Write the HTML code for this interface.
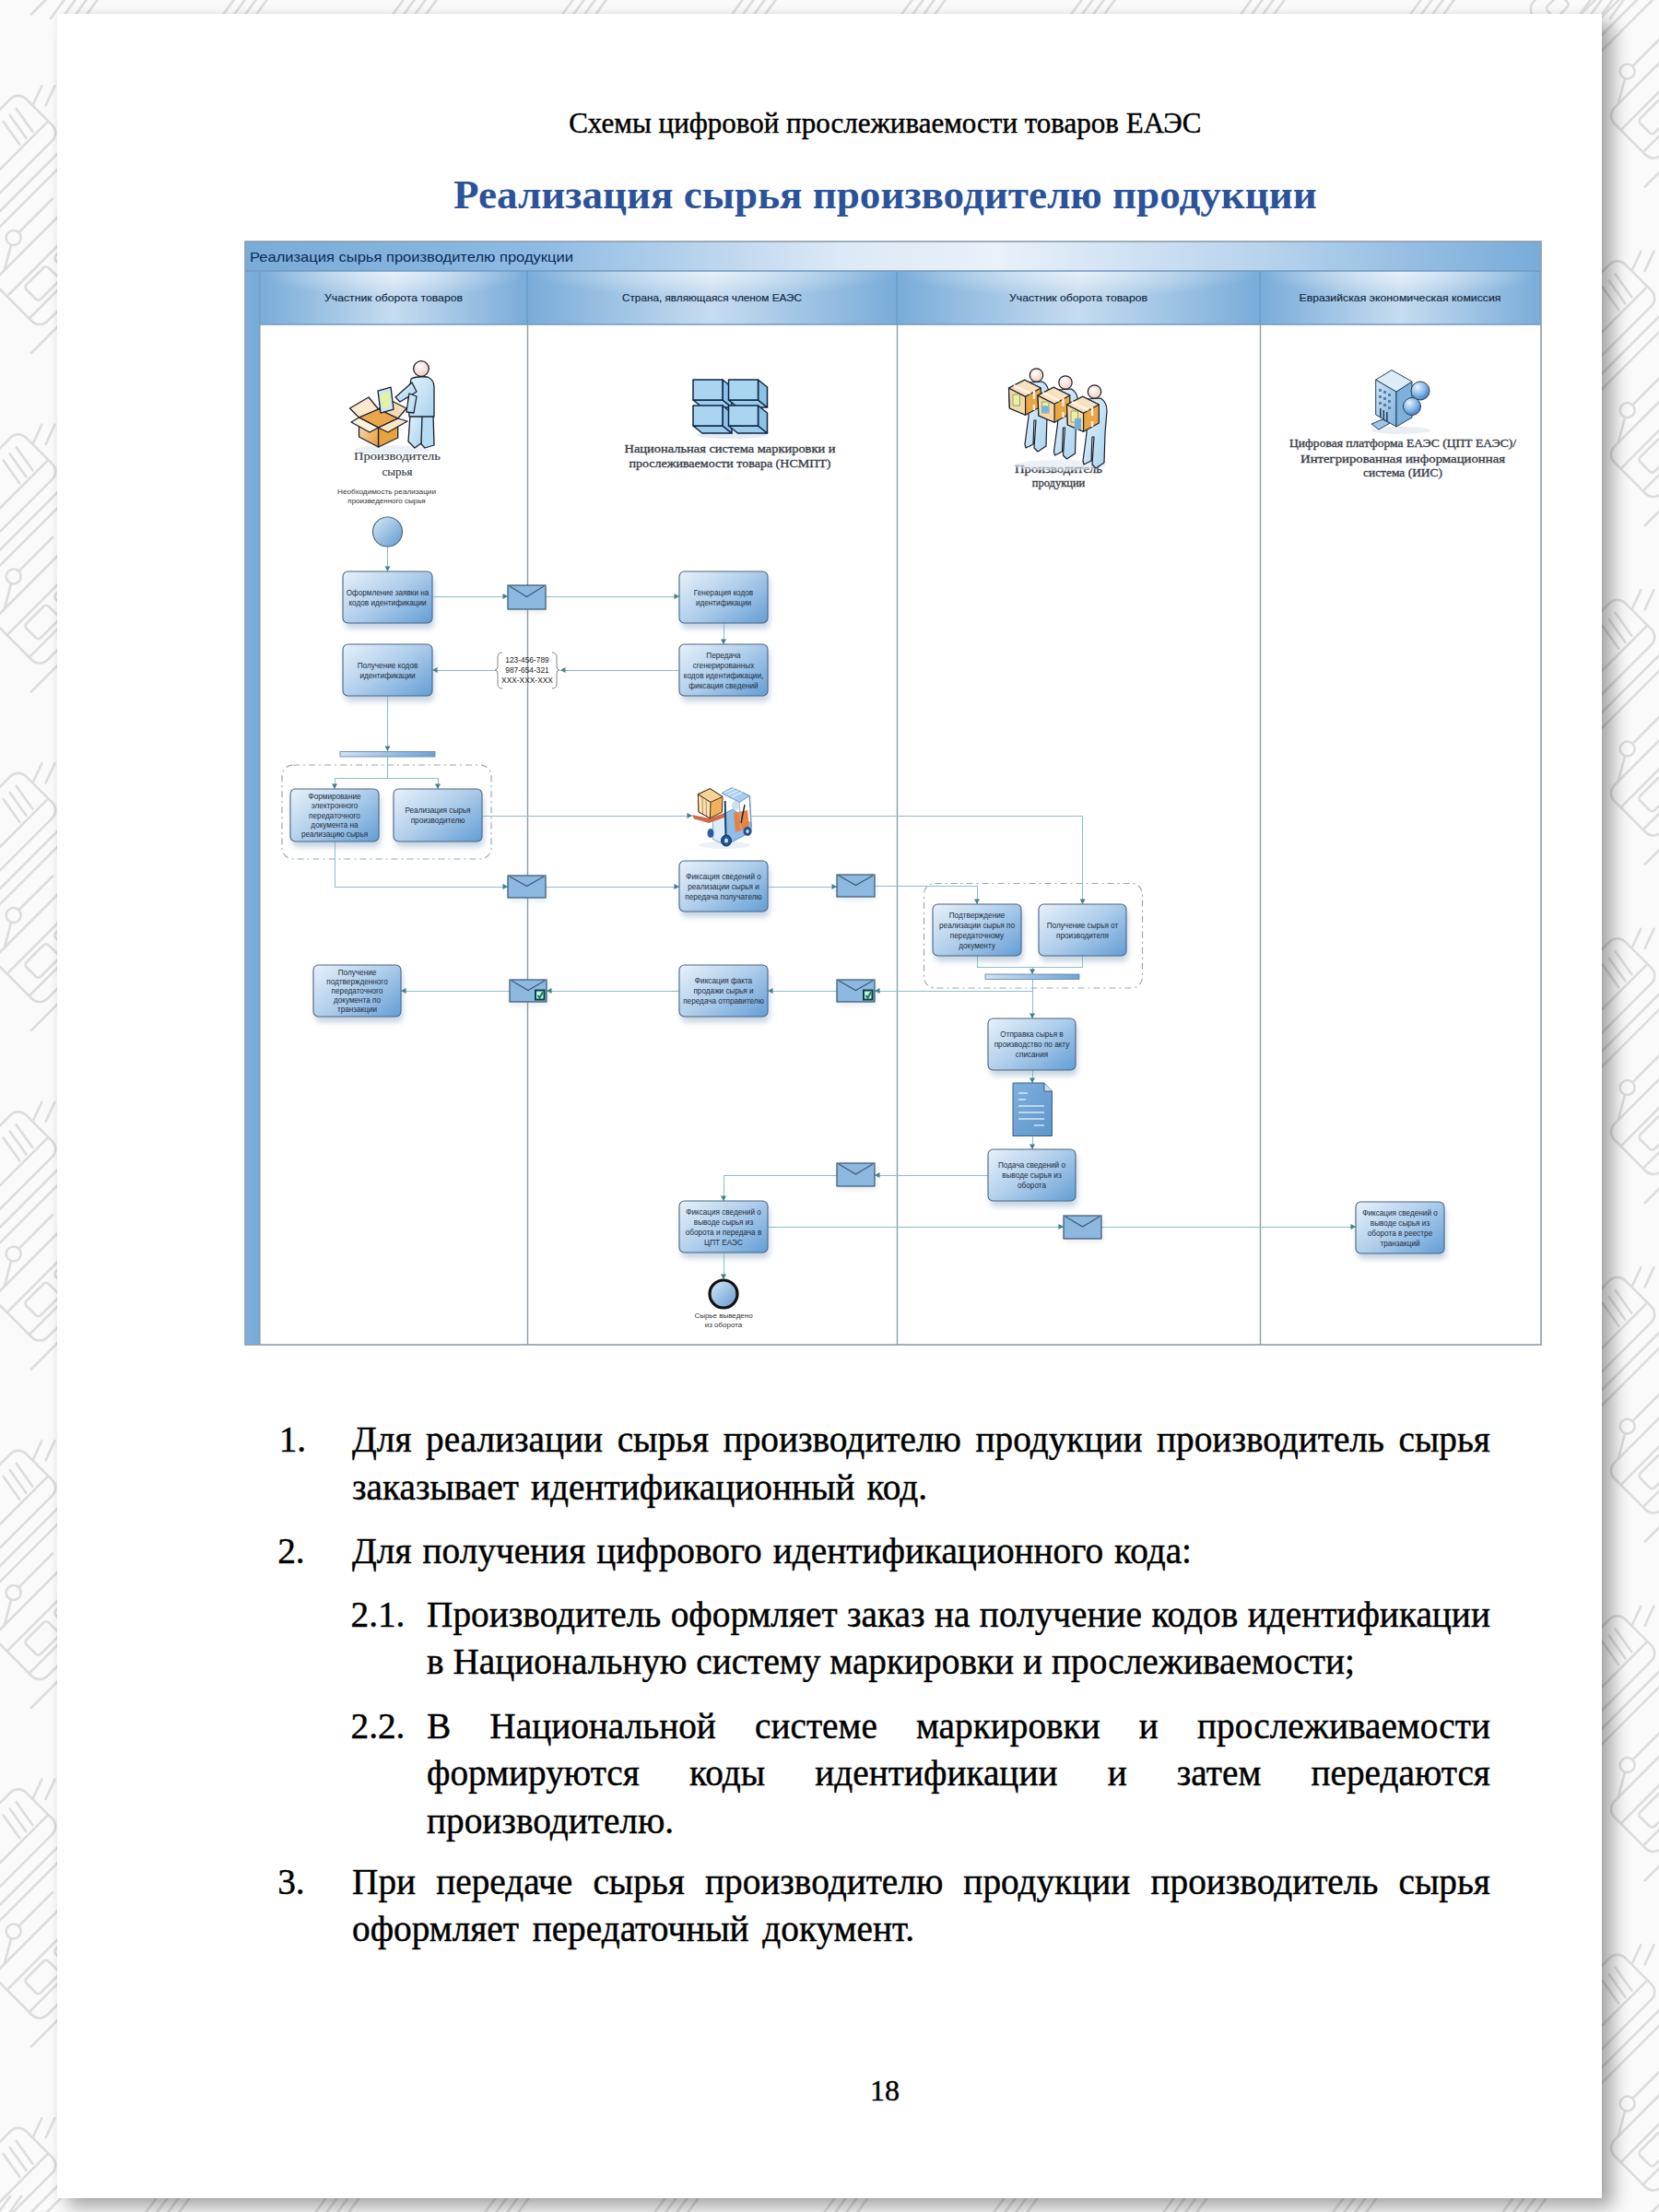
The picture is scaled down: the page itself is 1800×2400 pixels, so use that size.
<!DOCTYPE html>
<html><head><meta charset="utf-8"><style>
html,body{margin:0;padding:0;width:1800px;height:2400px;overflow:hidden;background:#fafafa}
.page{position:absolute;left:62px;top:15px;width:1676px;height:2370px;background:#fff;box-shadow:12px 10px 18px rgba(0,0,0,0.33),0 0 6px rgba(0,0,0,0.06)}
.l{position:absolute;white-space:nowrap;line-height:1;font-family:"Liberation Serif",serif;color:#000;-webkit-text-stroke:0.45px #000}
.j{display:flex;justify-content:space-between}
</style></head><body>
<svg width="1800" height="2400" style="position:absolute;left:0;top:0"><rect width="1800" height="2400" fill="#fafafa"/><g fill="none" stroke="#dcdcdc" stroke-width="2.6" stroke-linecap="round" stroke-linejoin="round"><g transform="translate(-7,-196.5) rotate(-45)"><rect x="-70" y="-32" width="140" height="64" rx="12"/><line x1="-70" y1="14" x2="70" y2="14"/><line x1="35" y1="-20" x2="30" y2="10"/><line x1="45" y1="-20" x2="40" y2="10"/><line x1="55" y1="-20" x2="50" y2="10"/><rect x="-55" y="-18" width="22" height="16" rx="4"/><line x1="-95" y1="46" x2="95" y2="46"/><line x1="-95" y1="58" x2="95" y2="58"/><path d="M70,-10 l22,-8 m-12,18 l22,-8"/></g><g transform="translate(67,-85.5) rotate(-45)"><rect x="-70" y="-36" width="140" height="72" rx="12"/><line x1="-70" y1="-14" x2="70" y2="-14"/><line x1="-70" y1="20" x2="70" y2="20"/><rect x="-50" y="-8" width="34" height="22" rx="4"/><rect x="-5" y="-8" width="34" height="22" rx="4"/><rect x="40" y="23" width="16" height="10" rx="4"/><circle cx="-20" cy="-54" r="8"/><line x1="-12" y1="-54" x2="40" y2="-54"/><line x1="-28" y1="-50" x2="-52" y2="-36"/><line x1="-95" y1="48" x2="95" y2="48"/></g><g transform="translate(1818,-266.0) rotate(-45)"><rect x="-70" y="-36" width="140" height="72" rx="12"/><line x1="-70" y1="-14" x2="70" y2="-14"/><line x1="-70" y1="20" x2="70" y2="20"/><rect x="-50" y="-8" width="34" height="22" rx="4"/><rect x="-5" y="-8" width="34" height="22" rx="4"/><rect x="40" y="23" width="16" height="10" rx="4"/><circle cx="-20" cy="-54" r="8"/><line x1="-12" y1="-54" x2="40" y2="-54"/><line x1="-28" y1="-50" x2="-52" y2="-36"/><line x1="-95" y1="48" x2="95" y2="48"/></g><g transform="translate(1728,-17.0) rotate(-45)"><rect x="-70" y="-32" width="140" height="64" rx="12"/><line x1="-70" y1="14" x2="70" y2="14"/><line x1="35" y1="-20" x2="30" y2="10"/><line x1="45" y1="-20" x2="40" y2="10"/><line x1="55" y1="-20" x2="50" y2="10"/><rect x="-55" y="-18" width="22" height="16" rx="4"/><line x1="-95" y1="46" x2="95" y2="46"/><line x1="-95" y1="58" x2="95" y2="58"/><path d="M70,-10 l22,-8 m-12,18 l22,-8"/></g><g transform="translate(-7,171.0) rotate(-45)"><rect x="-70" y="-32" width="140" height="64" rx="12"/><line x1="-70" y1="14" x2="70" y2="14"/><line x1="35" y1="-20" x2="30" y2="10"/><line x1="45" y1="-20" x2="40" y2="10"/><line x1="55" y1="-20" x2="50" y2="10"/><rect x="-55" y="-18" width="22" height="16" rx="4"/><line x1="-95" y1="46" x2="95" y2="46"/><line x1="-95" y1="58" x2="95" y2="58"/><path d="M70,-10 l22,-8 m-12,18 l22,-8"/></g><g transform="translate(67,282.0) rotate(-45)"><rect x="-70" y="-36" width="140" height="72" rx="12"/><line x1="-70" y1="-14" x2="70" y2="-14"/><line x1="-70" y1="20" x2="70" y2="20"/><rect x="-50" y="-8" width="34" height="22" rx="4"/><rect x="-5" y="-8" width="34" height="22" rx="4"/><rect x="40" y="23" width="16" height="10" rx="4"/><circle cx="-20" cy="-54" r="8"/><line x1="-12" y1="-54" x2="40" y2="-54"/><line x1="-28" y1="-50" x2="-52" y2="-36"/><line x1="-95" y1="48" x2="95" y2="48"/></g><g transform="translate(1818,101.5) rotate(-45)"><rect x="-70" y="-36" width="140" height="72" rx="12"/><line x1="-70" y1="-14" x2="70" y2="-14"/><line x1="-70" y1="20" x2="70" y2="20"/><rect x="-50" y="-8" width="34" height="22" rx="4"/><rect x="-5" y="-8" width="34" height="22" rx="4"/><rect x="40" y="23" width="16" height="10" rx="4"/><circle cx="-20" cy="-54" r="8"/><line x1="-12" y1="-54" x2="40" y2="-54"/><line x1="-28" y1="-50" x2="-52" y2="-36"/><line x1="-95" y1="48" x2="95" y2="48"/></g><g transform="translate(1728,350.5) rotate(-45)"><rect x="-70" y="-32" width="140" height="64" rx="12"/><line x1="-70" y1="14" x2="70" y2="14"/><line x1="35" y1="-20" x2="30" y2="10"/><line x1="45" y1="-20" x2="40" y2="10"/><line x1="55" y1="-20" x2="50" y2="10"/><rect x="-55" y="-18" width="22" height="16" rx="4"/><line x1="-95" y1="46" x2="95" y2="46"/><line x1="-95" y1="58" x2="95" y2="58"/><path d="M70,-10 l22,-8 m-12,18 l22,-8"/></g><g transform="translate(-7,538.5) rotate(-45)"><rect x="-70" y="-32" width="140" height="64" rx="12"/><line x1="-70" y1="14" x2="70" y2="14"/><line x1="35" y1="-20" x2="30" y2="10"/><line x1="45" y1="-20" x2="40" y2="10"/><line x1="55" y1="-20" x2="50" y2="10"/><rect x="-55" y="-18" width="22" height="16" rx="4"/><line x1="-95" y1="46" x2="95" y2="46"/><line x1="-95" y1="58" x2="95" y2="58"/><path d="M70,-10 l22,-8 m-12,18 l22,-8"/></g><g transform="translate(67,649.5) rotate(-45)"><rect x="-70" y="-36" width="140" height="72" rx="12"/><line x1="-70" y1="-14" x2="70" y2="-14"/><line x1="-70" y1="20" x2="70" y2="20"/><rect x="-50" y="-8" width="34" height="22" rx="4"/><rect x="-5" y="-8" width="34" height="22" rx="4"/><rect x="40" y="23" width="16" height="10" rx="4"/><circle cx="-20" cy="-54" r="8"/><line x1="-12" y1="-54" x2="40" y2="-54"/><line x1="-28" y1="-50" x2="-52" y2="-36"/><line x1="-95" y1="48" x2="95" y2="48"/></g><g transform="translate(1818,469.0) rotate(-45)"><rect x="-70" y="-36" width="140" height="72" rx="12"/><line x1="-70" y1="-14" x2="70" y2="-14"/><line x1="-70" y1="20" x2="70" y2="20"/><rect x="-50" y="-8" width="34" height="22" rx="4"/><rect x="-5" y="-8" width="34" height="22" rx="4"/><rect x="40" y="23" width="16" height="10" rx="4"/><circle cx="-20" cy="-54" r="8"/><line x1="-12" y1="-54" x2="40" y2="-54"/><line x1="-28" y1="-50" x2="-52" y2="-36"/><line x1="-95" y1="48" x2="95" y2="48"/></g><g transform="translate(1728,718.0) rotate(-45)"><rect x="-70" y="-32" width="140" height="64" rx="12"/><line x1="-70" y1="14" x2="70" y2="14"/><line x1="35" y1="-20" x2="30" y2="10"/><line x1="45" y1="-20" x2="40" y2="10"/><line x1="55" y1="-20" x2="50" y2="10"/><rect x="-55" y="-18" width="22" height="16" rx="4"/><line x1="-95" y1="46" x2="95" y2="46"/><line x1="-95" y1="58" x2="95" y2="58"/><path d="M70,-10 l22,-8 m-12,18 l22,-8"/></g><g transform="translate(-7,906.0) rotate(-45)"><rect x="-70" y="-32" width="140" height="64" rx="12"/><line x1="-70" y1="14" x2="70" y2="14"/><line x1="35" y1="-20" x2="30" y2="10"/><line x1="45" y1="-20" x2="40" y2="10"/><line x1="55" y1="-20" x2="50" y2="10"/><rect x="-55" y="-18" width="22" height="16" rx="4"/><line x1="-95" y1="46" x2="95" y2="46"/><line x1="-95" y1="58" x2="95" y2="58"/><path d="M70,-10 l22,-8 m-12,18 l22,-8"/></g><g transform="translate(67,1017.0) rotate(-45)"><rect x="-70" y="-36" width="140" height="72" rx="12"/><line x1="-70" y1="-14" x2="70" y2="-14"/><line x1="-70" y1="20" x2="70" y2="20"/><rect x="-50" y="-8" width="34" height="22" rx="4"/><rect x="-5" y="-8" width="34" height="22" rx="4"/><rect x="40" y="23" width="16" height="10" rx="4"/><circle cx="-20" cy="-54" r="8"/><line x1="-12" y1="-54" x2="40" y2="-54"/><line x1="-28" y1="-50" x2="-52" y2="-36"/><line x1="-95" y1="48" x2="95" y2="48"/></g><g transform="translate(1818,836.5) rotate(-45)"><rect x="-70" y="-36" width="140" height="72" rx="12"/><line x1="-70" y1="-14" x2="70" y2="-14"/><line x1="-70" y1="20" x2="70" y2="20"/><rect x="-50" y="-8" width="34" height="22" rx="4"/><rect x="-5" y="-8" width="34" height="22" rx="4"/><rect x="40" y="23" width="16" height="10" rx="4"/><circle cx="-20" cy="-54" r="8"/><line x1="-12" y1="-54" x2="40" y2="-54"/><line x1="-28" y1="-50" x2="-52" y2="-36"/><line x1="-95" y1="48" x2="95" y2="48"/></g><g transform="translate(1728,1085.5) rotate(-45)"><rect x="-70" y="-32" width="140" height="64" rx="12"/><line x1="-70" y1="14" x2="70" y2="14"/><line x1="35" y1="-20" x2="30" y2="10"/><line x1="45" y1="-20" x2="40" y2="10"/><line x1="55" y1="-20" x2="50" y2="10"/><rect x="-55" y="-18" width="22" height="16" rx="4"/><line x1="-95" y1="46" x2="95" y2="46"/><line x1="-95" y1="58" x2="95" y2="58"/><path d="M70,-10 l22,-8 m-12,18 l22,-8"/></g><g transform="translate(-7,1273.5) rotate(-45)"><rect x="-70" y="-32" width="140" height="64" rx="12"/><line x1="-70" y1="14" x2="70" y2="14"/><line x1="35" y1="-20" x2="30" y2="10"/><line x1="45" y1="-20" x2="40" y2="10"/><line x1="55" y1="-20" x2="50" y2="10"/><rect x="-55" y="-18" width="22" height="16" rx="4"/><line x1="-95" y1="46" x2="95" y2="46"/><line x1="-95" y1="58" x2="95" y2="58"/><path d="M70,-10 l22,-8 m-12,18 l22,-8"/></g><g transform="translate(67,1384.5) rotate(-45)"><rect x="-70" y="-36" width="140" height="72" rx="12"/><line x1="-70" y1="-14" x2="70" y2="-14"/><line x1="-70" y1="20" x2="70" y2="20"/><rect x="-50" y="-8" width="34" height="22" rx="4"/><rect x="-5" y="-8" width="34" height="22" rx="4"/><rect x="40" y="23" width="16" height="10" rx="4"/><circle cx="-20" cy="-54" r="8"/><line x1="-12" y1="-54" x2="40" y2="-54"/><line x1="-28" y1="-50" x2="-52" y2="-36"/><line x1="-95" y1="48" x2="95" y2="48"/></g><g transform="translate(1818,1204.0) rotate(-45)"><rect x="-70" y="-36" width="140" height="72" rx="12"/><line x1="-70" y1="-14" x2="70" y2="-14"/><line x1="-70" y1="20" x2="70" y2="20"/><rect x="-50" y="-8" width="34" height="22" rx="4"/><rect x="-5" y="-8" width="34" height="22" rx="4"/><rect x="40" y="23" width="16" height="10" rx="4"/><circle cx="-20" cy="-54" r="8"/><line x1="-12" y1="-54" x2="40" y2="-54"/><line x1="-28" y1="-50" x2="-52" y2="-36"/><line x1="-95" y1="48" x2="95" y2="48"/></g><g transform="translate(1728,1453.0) rotate(-45)"><rect x="-70" y="-32" width="140" height="64" rx="12"/><line x1="-70" y1="14" x2="70" y2="14"/><line x1="35" y1="-20" x2="30" y2="10"/><line x1="45" y1="-20" x2="40" y2="10"/><line x1="55" y1="-20" x2="50" y2="10"/><rect x="-55" y="-18" width="22" height="16" rx="4"/><line x1="-95" y1="46" x2="95" y2="46"/><line x1="-95" y1="58" x2="95" y2="58"/><path d="M70,-10 l22,-8 m-12,18 l22,-8"/></g><g transform="translate(-7,1641.0) rotate(-45)"><rect x="-70" y="-32" width="140" height="64" rx="12"/><line x1="-70" y1="14" x2="70" y2="14"/><line x1="35" y1="-20" x2="30" y2="10"/><line x1="45" y1="-20" x2="40" y2="10"/><line x1="55" y1="-20" x2="50" y2="10"/><rect x="-55" y="-18" width="22" height="16" rx="4"/><line x1="-95" y1="46" x2="95" y2="46"/><line x1="-95" y1="58" x2="95" y2="58"/><path d="M70,-10 l22,-8 m-12,18 l22,-8"/></g><g transform="translate(67,1752.0) rotate(-45)"><rect x="-70" y="-36" width="140" height="72" rx="12"/><line x1="-70" y1="-14" x2="70" y2="-14"/><line x1="-70" y1="20" x2="70" y2="20"/><rect x="-50" y="-8" width="34" height="22" rx="4"/><rect x="-5" y="-8" width="34" height="22" rx="4"/><rect x="40" y="23" width="16" height="10" rx="4"/><circle cx="-20" cy="-54" r="8"/><line x1="-12" y1="-54" x2="40" y2="-54"/><line x1="-28" y1="-50" x2="-52" y2="-36"/><line x1="-95" y1="48" x2="95" y2="48"/></g><g transform="translate(1818,1571.5) rotate(-45)"><rect x="-70" y="-36" width="140" height="72" rx="12"/><line x1="-70" y1="-14" x2="70" y2="-14"/><line x1="-70" y1="20" x2="70" y2="20"/><rect x="-50" y="-8" width="34" height="22" rx="4"/><rect x="-5" y="-8" width="34" height="22" rx="4"/><rect x="40" y="23" width="16" height="10" rx="4"/><circle cx="-20" cy="-54" r="8"/><line x1="-12" y1="-54" x2="40" y2="-54"/><line x1="-28" y1="-50" x2="-52" y2="-36"/><line x1="-95" y1="48" x2="95" y2="48"/></g><g transform="translate(1728,1820.5) rotate(-45)"><rect x="-70" y="-32" width="140" height="64" rx="12"/><line x1="-70" y1="14" x2="70" y2="14"/><line x1="35" y1="-20" x2="30" y2="10"/><line x1="45" y1="-20" x2="40" y2="10"/><line x1="55" y1="-20" x2="50" y2="10"/><rect x="-55" y="-18" width="22" height="16" rx="4"/><line x1="-95" y1="46" x2="95" y2="46"/><line x1="-95" y1="58" x2="95" y2="58"/><path d="M70,-10 l22,-8 m-12,18 l22,-8"/></g><g transform="translate(-7,2008.5) rotate(-45)"><rect x="-70" y="-32" width="140" height="64" rx="12"/><line x1="-70" y1="14" x2="70" y2="14"/><line x1="35" y1="-20" x2="30" y2="10"/><line x1="45" y1="-20" x2="40" y2="10"/><line x1="55" y1="-20" x2="50" y2="10"/><rect x="-55" y="-18" width="22" height="16" rx="4"/><line x1="-95" y1="46" x2="95" y2="46"/><line x1="-95" y1="58" x2="95" y2="58"/><path d="M70,-10 l22,-8 m-12,18 l22,-8"/></g><g transform="translate(67,2119.5) rotate(-45)"><rect x="-70" y="-36" width="140" height="72" rx="12"/><line x1="-70" y1="-14" x2="70" y2="-14"/><line x1="-70" y1="20" x2="70" y2="20"/><rect x="-50" y="-8" width="34" height="22" rx="4"/><rect x="-5" y="-8" width="34" height="22" rx="4"/><rect x="40" y="23" width="16" height="10" rx="4"/><circle cx="-20" cy="-54" r="8"/><line x1="-12" y1="-54" x2="40" y2="-54"/><line x1="-28" y1="-50" x2="-52" y2="-36"/><line x1="-95" y1="48" x2="95" y2="48"/></g><g transform="translate(1818,1939.0) rotate(-45)"><rect x="-70" y="-36" width="140" height="72" rx="12"/><line x1="-70" y1="-14" x2="70" y2="-14"/><line x1="-70" y1="20" x2="70" y2="20"/><rect x="-50" y="-8" width="34" height="22" rx="4"/><rect x="-5" y="-8" width="34" height="22" rx="4"/><rect x="40" y="23" width="16" height="10" rx="4"/><circle cx="-20" cy="-54" r="8"/><line x1="-12" y1="-54" x2="40" y2="-54"/><line x1="-28" y1="-50" x2="-52" y2="-36"/><line x1="-95" y1="48" x2="95" y2="48"/></g><g transform="translate(1728,2188.0) rotate(-45)"><rect x="-70" y="-32" width="140" height="64" rx="12"/><line x1="-70" y1="14" x2="70" y2="14"/><line x1="35" y1="-20" x2="30" y2="10"/><line x1="45" y1="-20" x2="40" y2="10"/><line x1="55" y1="-20" x2="50" y2="10"/><rect x="-55" y="-18" width="22" height="16" rx="4"/><line x1="-95" y1="46" x2="95" y2="46"/><line x1="-95" y1="58" x2="95" y2="58"/><path d="M70,-10 l22,-8 m-12,18 l22,-8"/></g><g transform="translate(-7,2376.0) rotate(-45)"><rect x="-70" y="-32" width="140" height="64" rx="12"/><line x1="-70" y1="14" x2="70" y2="14"/><line x1="35" y1="-20" x2="30" y2="10"/><line x1="45" y1="-20" x2="40" y2="10"/><line x1="55" y1="-20" x2="50" y2="10"/><rect x="-55" y="-18" width="22" height="16" rx="4"/><line x1="-95" y1="46" x2="95" y2="46"/><line x1="-95" y1="58" x2="95" y2="58"/><path d="M70,-10 l22,-8 m-12,18 l22,-8"/></g><g transform="translate(67,2487.0) rotate(-45)"><rect x="-70" y="-36" width="140" height="72" rx="12"/><line x1="-70" y1="-14" x2="70" y2="-14"/><line x1="-70" y1="20" x2="70" y2="20"/><rect x="-50" y="-8" width="34" height="22" rx="4"/><rect x="-5" y="-8" width="34" height="22" rx="4"/><rect x="40" y="23" width="16" height="10" rx="4"/><circle cx="-20" cy="-54" r="8"/><line x1="-12" y1="-54" x2="40" y2="-54"/><line x1="-28" y1="-50" x2="-52" y2="-36"/><line x1="-95" y1="48" x2="95" y2="48"/></g><g transform="translate(1818,2306.5) rotate(-45)"><rect x="-70" y="-36" width="140" height="72" rx="12"/><line x1="-70" y1="-14" x2="70" y2="-14"/><line x1="-70" y1="20" x2="70" y2="20"/><rect x="-50" y="-8" width="34" height="22" rx="4"/><rect x="-5" y="-8" width="34" height="22" rx="4"/><rect x="40" y="23" width="16" height="10" rx="4"/><circle cx="-20" cy="-54" r="8"/><line x1="-12" y1="-54" x2="40" y2="-54"/><line x1="-28" y1="-50" x2="-52" y2="-36"/><line x1="-95" y1="48" x2="95" y2="48"/></g><g transform="translate(1728,2555.5) rotate(-45)"><rect x="-70" y="-32" width="140" height="64" rx="12"/><line x1="-70" y1="14" x2="70" y2="14"/><line x1="35" y1="-20" x2="30" y2="10"/><line x1="45" y1="-20" x2="40" y2="10"/><line x1="55" y1="-20" x2="50" y2="10"/><rect x="-55" y="-18" width="22" height="16" rx="4"/><line x1="-95" y1="46" x2="95" y2="46"/><line x1="-95" y1="58" x2="95" y2="58"/><path d="M70,-10 l22,-8 m-12,18 l22,-8"/></g><g transform="translate(-7,2743.5) rotate(-45)"><rect x="-70" y="-32" width="140" height="64" rx="12"/><line x1="-70" y1="14" x2="70" y2="14"/><line x1="35" y1="-20" x2="30" y2="10"/><line x1="45" y1="-20" x2="40" y2="10"/><line x1="55" y1="-20" x2="50" y2="10"/><rect x="-55" y="-18" width="22" height="16" rx="4"/><line x1="-95" y1="46" x2="95" y2="46"/><line x1="-95" y1="58" x2="95" y2="58"/><path d="M70,-10 l22,-8 m-12,18 l22,-8"/></g><g transform="translate(67,2854.5) rotate(-45)"><rect x="-70" y="-36" width="140" height="72" rx="12"/><line x1="-70" y1="-14" x2="70" y2="-14"/><line x1="-70" y1="20" x2="70" y2="20"/><rect x="-50" y="-8" width="34" height="22" rx="4"/><rect x="-5" y="-8" width="34" height="22" rx="4"/><rect x="40" y="23" width="16" height="10" rx="4"/><circle cx="-20" cy="-54" r="8"/><line x1="-12" y1="-54" x2="40" y2="-54"/><line x1="-28" y1="-50" x2="-52" y2="-36"/><line x1="-95" y1="48" x2="95" y2="48"/></g><g transform="translate(1818,2674.0) rotate(-45)"><rect x="-70" y="-36" width="140" height="72" rx="12"/><line x1="-70" y1="-14" x2="70" y2="-14"/><line x1="-70" y1="20" x2="70" y2="20"/><rect x="-50" y="-8" width="34" height="22" rx="4"/><rect x="-5" y="-8" width="34" height="22" rx="4"/><rect x="40" y="23" width="16" height="10" rx="4"/><circle cx="-20" cy="-54" r="8"/><line x1="-12" y1="-54" x2="40" y2="-54"/><line x1="-28" y1="-50" x2="-52" y2="-36"/><line x1="-95" y1="48" x2="95" y2="48"/></g><g transform="translate(1728,2923.0) rotate(-45)"><rect x="-70" y="-32" width="140" height="64" rx="12"/><line x1="-70" y1="14" x2="70" y2="14"/><line x1="35" y1="-20" x2="30" y2="10"/><line x1="45" y1="-20" x2="40" y2="10"/><line x1="55" y1="-20" x2="50" y2="10"/><rect x="-55" y="-18" width="22" height="16" rx="4"/><line x1="-95" y1="46" x2="95" y2="46"/><line x1="-95" y1="58" x2="95" y2="58"/><path d="M70,-10 l22,-8 m-12,18 l22,-8"/></g><path d="M-129,20 l16,-22 m-4,22 l16,-22 m-4,22 l16,-22 m-4,22 l16,-22"/><path d="M-29,2405 l16,-22 m-4,22 l16,-22 m-4,22 l16,-22 m-4,22 l16,-22"/><path d="M55,20 l16,-22 m-4,22 l16,-22 m-4,22 l16,-22 m-4,22 l16,-22"/><path d="M155,2405 l16,-22 m-4,22 l16,-22 m-4,22 l16,-22 m-4,22 l16,-22"/><path d="M239,20 l16,-22 m-4,22 l16,-22 m-4,22 l16,-22 m-4,22 l16,-22"/><path d="M339,2405 l16,-22 m-4,22 l16,-22 m-4,22 l16,-22 m-4,22 l16,-22"/><path d="M423,20 l16,-22 m-4,22 l16,-22 m-4,22 l16,-22 m-4,22 l16,-22"/><path d="M523,2405 l16,-22 m-4,22 l16,-22 m-4,22 l16,-22 m-4,22 l16,-22"/><path d="M607,20 l16,-22 m-4,22 l16,-22 m-4,22 l16,-22 m-4,22 l16,-22"/><path d="M707,2405 l16,-22 m-4,22 l16,-22 m-4,22 l16,-22 m-4,22 l16,-22"/><path d="M791,20 l16,-22 m-4,22 l16,-22 m-4,22 l16,-22 m-4,22 l16,-22"/><path d="M891,2405 l16,-22 m-4,22 l16,-22 m-4,22 l16,-22 m-4,22 l16,-22"/><path d="M975,20 l16,-22 m-4,22 l16,-22 m-4,22 l16,-22 m-4,22 l16,-22"/><path d="M1075,2405 l16,-22 m-4,22 l16,-22 m-4,22 l16,-22 m-4,22 l16,-22"/><path d="M1159,20 l16,-22 m-4,22 l16,-22 m-4,22 l16,-22 m-4,22 l16,-22"/><path d="M1259,2405 l16,-22 m-4,22 l16,-22 m-4,22 l16,-22 m-4,22 l16,-22"/><path d="M1343,20 l16,-22 m-4,22 l16,-22 m-4,22 l16,-22 m-4,22 l16,-22"/><path d="M1443,2405 l16,-22 m-4,22 l16,-22 m-4,22 l16,-22 m-4,22 l16,-22"/><path d="M1527,20 l16,-22 m-4,22 l16,-22 m-4,22 l16,-22 m-4,22 l16,-22"/><path d="M1627,2405 l16,-22 m-4,22 l16,-22 m-4,22 l16,-22 m-4,22 l16,-22"/><path d="M1711,20 l16,-22 m-4,22 l16,-22 m-4,22 l16,-22 m-4,22 l16,-22"/><path d="M1811,2405 l16,-22 m-4,22 l16,-22 m-4,22 l16,-22 m-4,22 l16,-22"/><path d="M1895,20 l16,-22 m-4,22 l16,-22 m-4,22 l16,-22 m-4,22 l16,-22"/><path d="M1995,2405 l16,-22 m-4,22 l16,-22 m-4,22 l16,-22 m-4,22 l16,-22"/></g></svg>
<div class="page"></div>
<div class="l" style="left:617.2px;top:118.0px;font-size:31px">Схемы цифровой прослеживаемости товаров ЕАЭС</div>
<div class="l" style="left:492px;top:189.3px;font-size:45.15px;font-weight:bold;color:#2b539a;-webkit-text-stroke:0">Реализация сырья производителю продукции</div>
<div class="l" style="left:302.7px;top:1542.7px;font-size:39.3px">1.</div><div class="l j" style="left:382px;top:1542.7px;width:1235px;font-size:39.3px"><span>Для</span><span>реализации</span><span>сырья</span><span>производителю</span><span>продукции</span><span>производитель</span><span>сырья</span></div><div class="l j" style="left:382px;top:1594.5px;width:624px;font-size:39.3px"><span>заказывает</span><span>идентификационный</span><span>код.</span></div><div class="l" style="left:301.2px;top:1663.8px;font-size:39.3px">2.</div><div class="l j" style="left:382px;top:1663.8px;width:911px;font-size:39.3px"><span>Для</span><span>получения</span><span>цифрового</span><span>идентификационного</span><span>кода:</span></div><div class="l" style="left:380.5px;top:1732.5px;font-size:39.3px">2.1.</div><div class="l j" style="left:463px;top:1732.5px;width:1154px;font-size:39.3px"><span>Производитель</span><span>оформляет</span><span>заказ</span><span>на</span><span>получение</span><span>кодов</span><span>идентификации</span></div><div class="l j" style="left:463px;top:1784.4px;width:1007px;font-size:39.3px"><span>в</span><span>Национальную</span><span>систему</span><span>маркировки</span><span>и</span><span>прослеживаемости;</span></div><div class="l" style="left:380.5px;top:1853.9px;font-size:39.3px">2.2.</div><div class="l j" style="left:463px;top:1853.9px;width:1154px;font-size:39.3px"><span>В</span><span>Национальной</span><span>системе</span><span>маркировки</span><span>и</span><span>прослеживаемости</span></div><div class="l j" style="left:463px;top:1904.9px;width:1154px;font-size:39.3px"><span>формируются</span><span>коды</span><span>идентификации</span><span>и</span><span>затем</span><span>передаются</span></div><div class="l" style="left:463px;top:1956.8px;font-size:39.3px">производителю.</div><div class="l" style="left:301.2px;top:2022.6px;font-size:39.3px">3.</div><div class="l j" style="left:382px;top:2022.6px;width:1235px;font-size:39.3px"><span>При</span><span>передаче</span><span>сырья</span><span>производителю</span><span>продукции</span><span>производитель</span><span>сырья</span></div><div class="l j" style="left:382px;top:2073.6px;width:610px;font-size:39.3px"><span>оформляет</span><span>передаточный</span><span>документ.</span></div>
<div class="l" style="left:944px;top:2251.8px;font-size:32px">18</div>
<svg width="1800" height="2400" style="position:absolute;left:0;top:0">
<defs>
<filter id="blur" x="-30%" y="-30%" width="160%" height="160%"><feGaussianBlur stdDeviation="3"/></filter>
<filter id="blur2" x="-30%" y="-30%" width="160%" height="160%"><feGaussianBlur stdDeviation="1.5"/></filter>
<linearGradient id="gTitle" x1="0" y1="0" x2="1" y2="0">
 <stop offset="0" stop-color="#79acd8"/><stop offset="0.22" stop-color="#8cbae2"/><stop offset="0.46" stop-color="#dce9f6"/><stop offset="0.58" stop-color="#e9f1fa"/><stop offset="0.8" stop-color="#b3d1ec"/><stop offset="1" stop-color="#78acd9"/></linearGradient>
<linearGradient id="gStrip" x1="0" y1="0" x2="1" y2="0"><stop offset="0" stop-color="#7fb0dc"/><stop offset="1" stop-color="#76a9d8"/></linearGradient>
<linearGradient id="gHead" x1="0" y1="0" x2="1" y2="0">
 <stop offset="0" stop-color="#79acd9"/><stop offset="0.5" stop-color="#c6dcf0"/><stop offset="1" stop-color="#79acd9"/></linearGradient>
<radialGradient id="gHeadR" cx="0.5" cy="0" r="0.5" gradientTransform="translate(0,0) scale(1,1)">
 <stop offset="0" stop-color="#ffffff" stop-opacity="0.6"/><stop offset="1" stop-color="#ffffff" stop-opacity="0"/></radialGradient>
<linearGradient id="gBox" x1="0" y1="0.1" x2="1" y2="0.9">
 <stop offset="0" stop-color="#e2eef9"/><stop offset="0.5" stop-color="#aecdeb"/><stop offset="1" stop-color="#6aa2d7"/></linearGradient>
<linearGradient id="gCirc" x1="0" y1="0" x2="1" y2="1">
 <stop offset="0" stop-color="#d8ebf8"/><stop offset="1" stop-color="#5f98cf"/></linearGradient>
<linearGradient id="gBar" x1="0" y1="0" x2="1" y2="0"><stop offset="0" stop-color="#cfe2f3"/><stop offset="1" stop-color="#6fa3d3"/></linearGradient>
</defs>
<rect x="266" y="262" width="1406" height="1197" fill="#fff"/><rect x="266" y="262" width="1406" height="32" fill="url(#gTitle)"/><rect x="266" y="294" width="16" height="1165" fill="url(#gStrip)"/><rect x="282" y="294" width="290" height="58" fill="url(#gHead)"/><rect x="282" y="294" width="290" height="58" fill="url(#gHeadR)"/><rect x="572" y="294" width="401" height="58" fill="url(#gHead)"/><rect x="572" y="294" width="401" height="58" fill="url(#gHeadR)"/><rect x="973" y="294" width="394" height="58" fill="url(#gHead)"/><rect x="973" y="294" width="394" height="58" fill="url(#gHeadR)"/><rect x="1367" y="294" width="305" height="58" fill="url(#gHead)"/><rect x="1367" y="294" width="305" height="58" fill="url(#gHeadR)"/><line x1="266" y1="294" x2="1672" y2="294" stroke="#6f98bf" stroke-width="1.5"/><line x1="282" y1="352" x2="1672" y2="352" stroke="#6f98bf" stroke-width="1.5"/><line x1="572" y1="294" x2="572" y2="352" stroke="#6a9cc8" stroke-width="1.5"/><line x1="572.5" y1="352" x2="572.5" y2="1459" stroke="#8d9da6" stroke-width="1.4"/><line x1="973" y1="294" x2="973" y2="352" stroke="#6a9cc8" stroke-width="1.5"/><line x1="973.5" y1="352" x2="973.5" y2="1459" stroke="#8d9da6" stroke-width="1.4"/><line x1="1367" y1="294" x2="1367" y2="352" stroke="#6a9cc8" stroke-width="1.5"/><line x1="1367.5" y1="352" x2="1367.5" y2="1459" stroke="#8d9da6" stroke-width="1.4"/><line x1="282" y1="294" x2="282" y2="1459" stroke="#7b9cb8" stroke-width="1.2"/><rect x="266" y="262" width="1406" height="1197" fill="none" stroke="#8d9caa" stroke-width="1.6"/><text x="271" y="284" font-family="Liberation Sans, sans-serif" font-size="15" fill="#0b2a58" textLength="351" lengthAdjust="spacingAndGlyphs">Реализация сырья производителю продукции</text><text x="352.0" y="327" font-family="Liberation Sans, sans-serif" font-size="10.5" fill="#14283f" stroke="#14283f" stroke-width="0.15" textLength="150" lengthAdjust="spacingAndGlyphs">Участник оборота товаров</text><text x="675.0" y="327" font-family="Liberation Sans, sans-serif" font-size="10.5" fill="#14283f" stroke="#14283f" stroke-width="0.15" textLength="195" lengthAdjust="spacingAndGlyphs">Страна, являющаяся членом ЕАЭС</text><text x="1095.0" y="327" font-family="Liberation Sans, sans-serif" font-size="10.5" fill="#14283f" stroke="#14283f" stroke-width="0.15" textLength="150" lengthAdjust="spacingAndGlyphs">Участник оборота товаров</text><text x="1409.5" y="327" font-family="Liberation Sans, sans-serif" font-size="10.5" fill="#14283f" stroke="#14283f" stroke-width="0.15" textLength="219" lengthAdjust="spacingAndGlyphs">Евразийская экономическая комиссия</text><polyline points="420.5,593 420.5,620" fill="none" stroke="#8fbccb" stroke-width="1" shape-rendering="crispEdges"/><polygon points="420.5,620 417.5,614.5 423.5,614.5" fill="#3f7f86"/><polyline points="469,647 551,647" fill="none" stroke="#8fbccb" stroke-width="1" shape-rendering="crispEdges"/><polygon points="551,647 545.5,644 545.5,650" fill="#3f7f86"/><polyline points="592,647 737,647" fill="none" stroke="#8fbccb" stroke-width="1" shape-rendering="crispEdges"/><polygon points="737,647 731.5,644 731.5,650" fill="#3f7f86"/><polyline points="785,676 785,699" fill="none" stroke="#8fbccb" stroke-width="1" shape-rendering="crispEdges"/><polygon points="785,699 782,693.5 788,693.5" fill="#3f7f86"/><polyline points="737,727 608,727" fill="none" stroke="#8fbccb" stroke-width="1" shape-rendering="crispEdges"/><polygon points="608,727 613.5,724 613.5,730" fill="#3f7f86"/><polyline points="537,727 469,727" fill="none" stroke="#8fbccb" stroke-width="1" shape-rendering="crispEdges"/><polygon points="469,727 474.5,724 474.5,730" fill="#3f7f86"/><polyline points="420.5,755 420.5,815" fill="none" stroke="#8fbccb" stroke-width="1" shape-rendering="crispEdges"/><polygon points="420.5,815 417.5,809.5 423.5,809.5" fill="#3f7f86"/><polyline points="420.5,821 420.5,844" fill="none" stroke="#8fbccb" stroke-width="1" shape-rendering="crispEdges"/><polyline points="363,844 475,844" fill="none" stroke="#8fbccb" stroke-width="1" shape-rendering="crispEdges"/><polyline points="363,844 363,856" fill="none" stroke="#8fbccb" stroke-width="1" shape-rendering="crispEdges"/><polygon points="363,856 360,850.5 366,850.5" fill="#3f7f86"/><polyline points="475,844 475,856" fill="none" stroke="#8fbccb" stroke-width="1" shape-rendering="crispEdges"/><polygon points="475,856 472,850.5 478,850.5" fill="#3f7f86"/><polyline points="523,885 751,885" fill="none" stroke="#8fbccb" stroke-width="1" shape-rendering="crispEdges"/><polygon points="751,885 745.5,882 745.5,888" fill="#3f7f86"/><polyline points="815,885 1174.6,885 1174.6,981" fill="none" stroke="#8fbccb" stroke-width="1" shape-rendering="crispEdges"/><polygon points="1174.6,981 1171.6,975.5 1177.6,975.5" fill="#3f7f86"/><polyline points="363,913 363,962 551,962" fill="none" stroke="#8fbccb" stroke-width="1" shape-rendering="crispEdges"/><polygon points="551,962 545.5,959 545.5,965" fill="#3f7f86"/><polyline points="592,962 737,962" fill="none" stroke="#8fbccb" stroke-width="1" shape-rendering="crispEdges"/><polygon points="737,962 731.5,959 731.5,965" fill="#3f7f86"/><polyline points="833,962 908,962" fill="none" stroke="#8fbccb" stroke-width="1" shape-rendering="crispEdges"/><polygon points="908,962 902.5,959 902.5,965" fill="#3f7f86"/><polyline points="949,961.5 1060,961.5 1060,981" fill="none" stroke="#8fbccb" stroke-width="1" shape-rendering="crispEdges"/><polygon points="1060,981 1057,975.5 1063,975.5" fill="#3f7f86"/><polyline points="1060,1037 1060,1049.5 1174.6,1049.5 1174.6,1037" fill="none" stroke="#8fbccb" stroke-width="1" shape-rendering="crispEdges"/><polyline points="1120,1049.5 1120,1057" fill="none" stroke="#8fbccb" stroke-width="1" shape-rendering="crispEdges"/><polygon points="1120,1057 1117,1051.5 1123,1051.5" fill="#3f7f86"/><polyline points="1120,1062 1120,1105" fill="none" stroke="#8fbccb" stroke-width="1" shape-rendering="crispEdges"/><polygon points="1120,1105 1117,1099.5 1123,1099.5" fill="#3f7f86"/><polyline points="1120,1075 949,1075" fill="none" stroke="#8fbccb" stroke-width="1" shape-rendering="crispEdges"/><polygon points="949,1075 954.5,1072 954.5,1078" fill="#3f7f86"/><polyline points="908,1075 833,1075" fill="none" stroke="#8fbccb" stroke-width="1" shape-rendering="crispEdges"/><polygon points="833,1075 838.5,1072 838.5,1078" fill="#3f7f86"/><polyline points="737,1075 593,1075" fill="none" stroke="#8fbccb" stroke-width="1" shape-rendering="crispEdges"/><polygon points="593,1075 598.5,1072 598.5,1078" fill="#3f7f86"/><polyline points="553,1075 435,1075" fill="none" stroke="#8fbccb" stroke-width="1" shape-rendering="crispEdges"/><polygon points="435,1075 440.5,1072 440.5,1078" fill="#3f7f86"/><polyline points="1120,1161 1120,1175" fill="none" stroke="#8fbccb" stroke-width="1" shape-rendering="crispEdges"/><polygon points="1120,1175 1117,1169.5 1123,1169.5" fill="#3f7f86"/><polyline points="1120,1232 1120,1247" fill="none" stroke="#8fbccb" stroke-width="1" shape-rendering="crispEdges"/><polygon points="1120,1247 1117,1241.5 1123,1241.5" fill="#3f7f86"/><polyline points="1072,1275 949,1275" fill="none" stroke="#8fbccb" stroke-width="1" shape-rendering="crispEdges"/><polygon points="949,1275 954.5,1272 954.5,1278" fill="#3f7f86"/><polyline points="908,1275 785,1275 785,1303" fill="none" stroke="#8fbccb" stroke-width="1" shape-rendering="crispEdges"/><polygon points="785,1303 782,1297.5 788,1297.5" fill="#3f7f86"/><polyline points="833,1331 1154,1331" fill="none" stroke="#8fbccb" stroke-width="1" shape-rendering="crispEdges"/><polygon points="1154,1331 1148.5,1328 1148.5,1334" fill="#3f7f86"/><polyline points="1195,1331 1471,1331" fill="none" stroke="#8fbccb" stroke-width="1" shape-rendering="crispEdges"/><polygon points="1471,1331 1465.5,1328 1465.5,1334" fill="#3f7f86"/><polyline points="785,1359 785,1388" fill="none" stroke="#8fbccb" stroke-width="1" shape-rendering="crispEdges"/><polygon points="785,1388 782,1382.5 788,1382.5" fill="#3f7f86"/><rect x="306" y="830" width="227" height="102" rx="12" fill="none" stroke="#9aa6b0" stroke-width="1.2" stroke-dasharray="7,4,2,4"/><rect x="1002.5" y="958.5" width="237" height="113.5" rx="12" fill="none" stroke="#9aa6b0" stroke-width="1.2" stroke-dasharray="7,4,2,4"/><rect x="369" y="815.5" width="103" height="5.5" fill="url(#gBar)" stroke="#5a80a8" stroke-width="0.8"/><rect x="1069" y="1057" width="102" height="5.5" fill="url(#gBar)" stroke="#5a80a8" stroke-width="0.8"/><rect x="374" y="626" width="97" height="56" rx="6" fill="#7f9fbf" opacity="0.45" filter="url(#blur)"/><rect x="372" y="620" width="97" height="56" rx="5.5" fill="url(#gBox)" stroke="#4d6580" stroke-width="1.1"/><text x="420.5" y="645.5" font-family="Liberation Sans, sans-serif" font-size="8.2" fill="#1c2c3c" text-anchor="middle">Оформление заявки на</text><text x="420.5" y="656.5" font-family="Liberation Sans, sans-serif" font-size="8.2" fill="#1c2c3c" text-anchor="middle">кодов идентификации</text><rect x="739" y="626" width="96" height="56" rx="6" fill="#7f9fbf" opacity="0.45" filter="url(#blur)"/><rect x="737" y="620" width="96" height="56" rx="5.5" fill="url(#gBox)" stroke="#4d6580" stroke-width="1.1"/><text x="785.0" y="645.5" font-family="Liberation Sans, sans-serif" font-size="8.2" fill="#1c2c3c" text-anchor="middle">Генерация кодов</text><text x="785.0" y="656.5" font-family="Liberation Sans, sans-serif" font-size="8.2" fill="#1c2c3c" text-anchor="middle">идентификации</text><rect x="374" y="705" width="97" height="56" rx="6" fill="#7f9fbf" opacity="0.45" filter="url(#blur)"/><rect x="372" y="699" width="97" height="56" rx="5.5" fill="url(#gBox)" stroke="#4d6580" stroke-width="1.1"/><text x="420.5" y="724.5" font-family="Liberation Sans, sans-serif" font-size="8.2" fill="#1c2c3c" text-anchor="middle">Получение кодов</text><text x="420.5" y="735.5" font-family="Liberation Sans, sans-serif" font-size="8.2" fill="#1c2c3c" text-anchor="middle">идентификации</text><rect x="739" y="705" width="96" height="56" rx="6" fill="#7f9fbf" opacity="0.45" filter="url(#blur)"/><rect x="737" y="699" width="96" height="56" rx="5.5" fill="url(#gBox)" stroke="#4d6580" stroke-width="1.1"/><text x="785.0" y="713.5" font-family="Liberation Sans, sans-serif" font-size="8.2" fill="#1c2c3c" text-anchor="middle">Передача</text><text x="785.0" y="724.5" font-family="Liberation Sans, sans-serif" font-size="8.2" fill="#1c2c3c" text-anchor="middle">сгенерированных</text><text x="785.0" y="735.5" font-family="Liberation Sans, sans-serif" font-size="8.2" fill="#1c2c3c" text-anchor="middle">кодов идентификации,</text><text x="785.0" y="746.5" font-family="Liberation Sans, sans-serif" font-size="8.2" fill="#1c2c3c" text-anchor="middle">фиксация сведений</text><rect x="317" y="862" width="96" height="57" rx="6" fill="#7f9fbf" opacity="0.45" filter="url(#blur)"/><rect x="315" y="856" width="96" height="57" rx="5.5" fill="url(#gBox)" stroke="#4d6580" stroke-width="1.1"/><text x="363.0" y="867.1" font-family="Liberation Sans, sans-serif" font-size="8.2" fill="#1c2c3c" text-anchor="middle">Формирование</text><text x="363.0" y="877.3" font-family="Liberation Sans, sans-serif" font-size="8.2" fill="#1c2c3c" text-anchor="middle">электронного</text><text x="363.0" y="887.5" font-family="Liberation Sans, sans-serif" font-size="8.2" fill="#1c2c3c" text-anchor="middle">передаточного</text><text x="363.0" y="897.7" font-family="Liberation Sans, sans-serif" font-size="8.2" fill="#1c2c3c" text-anchor="middle">документа на</text><text x="363.0" y="907.9" font-family="Liberation Sans, sans-serif" font-size="8.2" fill="#1c2c3c" text-anchor="middle">реализацию сырья</text><rect x="429" y="862" width="96" height="57" rx="6" fill="#7f9fbf" opacity="0.45" filter="url(#blur)"/><rect x="427" y="856" width="96" height="57" rx="5.5" fill="url(#gBox)" stroke="#4d6580" stroke-width="1.1"/><text x="475.0" y="882.0" font-family="Liberation Sans, sans-serif" font-size="8.2" fill="#1c2c3c" text-anchor="middle">Реализация сырья</text><text x="475.0" y="893.0" font-family="Liberation Sans, sans-serif" font-size="8.2" fill="#1c2c3c" text-anchor="middle">производителю</text><rect x="739" y="940" width="96" height="55" rx="6" fill="#7f9fbf" opacity="0.45" filter="url(#blur)"/><rect x="737" y="934" width="96" height="55" rx="5.5" fill="url(#gBox)" stroke="#4d6580" stroke-width="1.1"/><text x="785.0" y="953.5" font-family="Liberation Sans, sans-serif" font-size="8.2" fill="#1c2c3c" text-anchor="middle">Фиксация сведений о</text><text x="785.0" y="964.5" font-family="Liberation Sans, sans-serif" font-size="8.2" fill="#1c2c3c" text-anchor="middle">реализации сырья и</text><text x="785.0" y="975.5" font-family="Liberation Sans, sans-serif" font-size="8.2" fill="#1c2c3c" text-anchor="middle">передача получателю</text><rect x="1014" y="987" width="96" height="56" rx="6" fill="#7f9fbf" opacity="0.45" filter="url(#blur)"/><rect x="1012" y="981" width="96" height="56" rx="5.5" fill="url(#gBox)" stroke="#4d6580" stroke-width="1.1"/><text x="1060.0" y="995.5" font-family="Liberation Sans, sans-serif" font-size="8.2" fill="#1c2c3c" text-anchor="middle">Подтверждение</text><text x="1060.0" y="1006.5" font-family="Liberation Sans, sans-serif" font-size="8.2" fill="#1c2c3c" text-anchor="middle">реализации сырья по</text><text x="1060.0" y="1017.5" font-family="Liberation Sans, sans-serif" font-size="8.2" fill="#1c2c3c" text-anchor="middle">передаточному</text><text x="1060.0" y="1028.5" font-family="Liberation Sans, sans-serif" font-size="8.2" fill="#1c2c3c" text-anchor="middle">документу</text><rect x="1129" y="987" width="95" height="56" rx="6" fill="#7f9fbf" opacity="0.45" filter="url(#blur)"/><rect x="1127" y="981" width="95" height="56" rx="5.5" fill="url(#gBox)" stroke="#4d6580" stroke-width="1.1"/><text x="1174.5" y="1006.5" font-family="Liberation Sans, sans-serif" font-size="8.2" fill="#1c2c3c" text-anchor="middle">Получение сырья от</text><text x="1174.5" y="1017.5" font-family="Liberation Sans, sans-serif" font-size="8.2" fill="#1c2c3c" text-anchor="middle">производителя</text><rect x="342" y="1053" width="95" height="56" rx="6" fill="#7f9fbf" opacity="0.45" filter="url(#blur)"/><rect x="340" y="1047" width="95" height="56" rx="5.5" fill="url(#gBox)" stroke="#4d6580" stroke-width="1.1"/><text x="387.5" y="1057.6" font-family="Liberation Sans, sans-serif" font-size="8.2" fill="#1c2c3c" text-anchor="middle">Получение</text><text x="387.5" y="1067.8" font-family="Liberation Sans, sans-serif" font-size="8.2" fill="#1c2c3c" text-anchor="middle">подтвержденного</text><text x="387.5" y="1078.0" font-family="Liberation Sans, sans-serif" font-size="8.2" fill="#1c2c3c" text-anchor="middle">передаточного</text><text x="387.5" y="1088.2" font-family="Liberation Sans, sans-serif" font-size="8.2" fill="#1c2c3c" text-anchor="middle">документа по</text><text x="387.5" y="1098.4" font-family="Liberation Sans, sans-serif" font-size="8.2" fill="#1c2c3c" text-anchor="middle">транзакции</text><rect x="739" y="1053" width="96" height="56" rx="6" fill="#7f9fbf" opacity="0.45" filter="url(#blur)"/><rect x="737" y="1047" width="96" height="56" rx="5.5" fill="url(#gBox)" stroke="#4d6580" stroke-width="1.1"/><text x="785.0" y="1067.0" font-family="Liberation Sans, sans-serif" font-size="8.2" fill="#1c2c3c" text-anchor="middle">Фиксация факта</text><text x="785.0" y="1078.0" font-family="Liberation Sans, sans-serif" font-size="8.2" fill="#1c2c3c" text-anchor="middle">продажи сырья и</text><text x="785.0" y="1089.0" font-family="Liberation Sans, sans-serif" font-size="8.2" fill="#1c2c3c" text-anchor="middle">передача отправителю</text><rect x="1074" y="1111" width="95" height="56" rx="6" fill="#7f9fbf" opacity="0.45" filter="url(#blur)"/><rect x="1072" y="1105" width="95" height="56" rx="5.5" fill="url(#gBox)" stroke="#4d6580" stroke-width="1.1"/><text x="1119.5" y="1125.0" font-family="Liberation Sans, sans-serif" font-size="8.2" fill="#1c2c3c" text-anchor="middle">Отправка сырья в</text><text x="1119.5" y="1136.0" font-family="Liberation Sans, sans-serif" font-size="8.2" fill="#1c2c3c" text-anchor="middle">производство по акту</text><text x="1119.5" y="1147.0" font-family="Liberation Sans, sans-serif" font-size="8.2" fill="#1c2c3c" text-anchor="middle">списания</text><rect x="1074" y="1253" width="95" height="56" rx="6" fill="#7f9fbf" opacity="0.45" filter="url(#blur)"/><rect x="1072" y="1247" width="95" height="56" rx="5.5" fill="url(#gBox)" stroke="#4d6580" stroke-width="1.1"/><text x="1119.5" y="1267.0" font-family="Liberation Sans, sans-serif" font-size="8.2" fill="#1c2c3c" text-anchor="middle">Подача сведений о</text><text x="1119.5" y="1278.0" font-family="Liberation Sans, sans-serif" font-size="8.2" fill="#1c2c3c" text-anchor="middle">выводе сырья из</text><text x="1119.5" y="1289.0" font-family="Liberation Sans, sans-serif" font-size="8.2" fill="#1c2c3c" text-anchor="middle">оборота</text><rect x="739" y="1309" width="96" height="56" rx="6" fill="#7f9fbf" opacity="0.45" filter="url(#blur)"/><rect x="737" y="1303" width="96" height="56" rx="5.5" fill="url(#gBox)" stroke="#4d6580" stroke-width="1.1"/><text x="785.0" y="1317.5" font-family="Liberation Sans, sans-serif" font-size="8.2" fill="#1c2c3c" text-anchor="middle">Фиксация сведений о</text><text x="785.0" y="1328.5" font-family="Liberation Sans, sans-serif" font-size="8.2" fill="#1c2c3c" text-anchor="middle">выводе сырья из</text><text x="785.0" y="1339.5" font-family="Liberation Sans, sans-serif" font-size="8.2" fill="#1c2c3c" text-anchor="middle">оборота и передача в</text><text x="785.0" y="1350.5" font-family="Liberation Sans, sans-serif" font-size="8.2" fill="#1c2c3c" text-anchor="middle">ЦПТ ЕАЭС</text><rect x="1473" y="1310" width="96" height="56" rx="6" fill="#7f9fbf" opacity="0.45" filter="url(#blur)"/><rect x="1471" y="1304" width="96" height="56" rx="5.5" fill="url(#gBox)" stroke="#4d6580" stroke-width="1.1"/><text x="1519.0" y="1318.5" font-family="Liberation Sans, sans-serif" font-size="8.2" fill="#1c2c3c" text-anchor="middle">Фиксация сведений о</text><text x="1519.0" y="1329.5" font-family="Liberation Sans, sans-serif" font-size="8.2" fill="#1c2c3c" text-anchor="middle">выводе сырья из</text><text x="1519.0" y="1340.5" font-family="Liberation Sans, sans-serif" font-size="8.2" fill="#1c2c3c" text-anchor="middle">оборота в реестре</text><text x="1519.0" y="1351.5" font-family="Liberation Sans, sans-serif" font-size="8.2" fill="#1c2c3c" text-anchor="middle">транзакций</text><rect x="552" y="638" width="41" height="26" fill="#8aa" opacity="0.25" filter="url(#blur)"/><rect x="551" y="635" width="41" height="26" fill="#8db8e0" stroke="#3d5672" stroke-width="1.2"/><polyline points="553,636 571.5,647.48 590,636" fill="none" stroke="#3d5672" stroke-width="1.1"/><rect x="552" y="953" width="41" height="24" fill="#8aa" opacity="0.25" filter="url(#blur)"/><rect x="551" y="950" width="41" height="24" fill="#8db8e0" stroke="#3d5672" stroke-width="1.2"/><polyline points="553,951 571.5,961.52 590,951" fill="none" stroke="#3d5672" stroke-width="1.1"/><rect x="909" y="952" width="41" height="24" fill="#8aa" opacity="0.25" filter="url(#blur)"/><rect x="908" y="949" width="41" height="24" fill="#8db8e0" stroke="#3d5672" stroke-width="1.2"/><polyline points="910,950 928.5,960.52 947,950" fill="none" stroke="#3d5672" stroke-width="1.1"/><rect x="909" y="1066" width="41" height="24" fill="#8aa" opacity="0.25" filter="url(#blur)"/><rect x="908" y="1063" width="41" height="24" fill="#8db8e0" stroke="#3d5672" stroke-width="1.2"/><polyline points="910,1064 928.5,1074.52 947,1064" fill="none" stroke="#3d5672" stroke-width="1.1"/><rect x="937" y="1074.5" width="9.5" height="10" fill="#bff3ee" stroke="#0c4048" stroke-width="2"/><polyline points="939.5,1080.0 941.5,1082.5 945,1076.5" fill="none" stroke="#1b7a3a" stroke-width="2"/><rect x="554" y="1066" width="40" height="24" fill="#8aa" opacity="0.25" filter="url(#blur)"/><rect x="553" y="1063" width="40" height="24" fill="#8db8e0" stroke="#3d5672" stroke-width="1.2"/><polyline points="555,1064 573.0,1074.52 591,1064" fill="none" stroke="#3d5672" stroke-width="1.1"/><rect x="581" y="1074.5" width="9.5" height="10" fill="#bff3ee" stroke="#0c4048" stroke-width="2"/><polyline points="583.5,1080.0 585.5,1082.5 589,1076.5" fill="none" stroke="#1b7a3a" stroke-width="2"/><rect x="909" y="1265" width="41" height="25" fill="#8aa" opacity="0.25" filter="url(#blur)"/><rect x="908" y="1262" width="41" height="25" fill="#8db8e0" stroke="#3d5672" stroke-width="1.2"/><polyline points="910,1263 928.5,1274.0 947,1263" fill="none" stroke="#3d5672" stroke-width="1.1"/><rect x="1155" y="1322" width="41" height="25" fill="#8aa" opacity="0.25" filter="url(#blur)"/><rect x="1154" y="1319" width="41" height="25" fill="#8db8e0" stroke="#3d5672" stroke-width="1.2"/><polyline points="1156,1320 1174.5,1331.0 1193,1320" fill="none" stroke="#3d5672" stroke-width="1.1"/><path d="M545,708 q-5,0 -5,5 v10 q0,4 -3,4 q3,0 3,4 v11 q0,5 5,5" fill="none" stroke="#777" stroke-width="0.9"/><path d="M599,708 q5,0 5,5 v10 q0,4 3,4 q-3,0 -3,4 v11 q0,5 -5,5" fill="none" stroke="#777" stroke-width="0.9"/><text x="572" y="719" font-family="Liberation Sans, sans-serif" font-size="8.4" fill="#222" text-anchor="middle">123-456-789</text><text x="572" y="730" font-family="Liberation Sans, sans-serif" font-size="8.4" fill="#222" text-anchor="middle">987-654-321</text><text x="572" y="741" font-family="Liberation Sans, sans-serif" font-size="8.4" fill="#222" text-anchor="middle">XXX-XXX-XXX</text><circle cx="420.5" cy="577" r="16" fill="url(#gCirc)" stroke="#4f6680" stroke-width="1.2"/><circle cx="785" cy="1404" r="15" fill="url(#gCirc)" stroke="#111" stroke-width="3.2"/><text x="785" y="1430" font-family="Liberation Sans, sans-serif" font-size="8" fill="#333" text-anchor="middle">Сырье выведено</text><text x="785" y="1440" font-family="Liberation Sans, sans-serif" font-size="8" fill="#333" text-anchor="middle">из оборота</text><text x="431" y="499" font-family="Liberation Serif, serif" font-size="13" fill="#353a46" stroke="#353a46" stroke-width="0.15" text-anchor="middle" textLength="94" lengthAdjust="spacingAndGlyphs">Производитель</text><text x="431" y="516" font-family="Liberation Serif, serif" font-size="13" fill="#353a46" stroke="#353a46" stroke-width="0.15" text-anchor="middle">сырья</text><text x="419.5" y="536" font-family="Liberation Sans, sans-serif" font-size="8" fill="#333" text-anchor="middle" textLength="107" lengthAdjust="spacingAndGlyphs">Необходимость реализации</text><text x="419.5" y="546" font-family="Liberation Sans, sans-serif" font-size="8" fill="#333" text-anchor="middle">произведенного сырья</text><text x="792" y="491" font-family="Liberation Serif, serif" font-size="12.5" fill="#353a46" stroke="#353a46" stroke-width="0.3" text-anchor="middle" textLength="229" lengthAdjust="spacingAndGlyphs">Национальная система маркировки и</text><text x="792" y="507" font-family="Liberation Serif, serif" font-size="12.5" fill="#353a46" stroke="#353a46" stroke-width="0.3" text-anchor="middle" textLength="219" lengthAdjust="spacingAndGlyphs">прослеживаемости товара (НСМПТ)</text><text x="1148.5" y="513" font-family="Liberation Serif, serif" font-size="12.5" fill="#353a46" stroke="#353a46" stroke-width="0.3" text-anchor="middle" textLength="95" lengthAdjust="spacingAndGlyphs">Производитель</text><text x="1148.5" y="528" font-family="Liberation Serif, serif" font-size="12.5" fill="#353a46" stroke="#353a46" stroke-width="0.3" text-anchor="middle">продукции</text><text x="1522" y="485" font-family="Liberation Serif, serif" font-size="12.5" fill="#353a46" stroke="#353a46" stroke-width="0.3" text-anchor="middle" textLength="246" lengthAdjust="spacingAndGlyphs">Цифровая платформа ЕАЭС (ЦПТ ЕАЭС)/</text><text x="1522" y="502" font-family="Liberation Serif, serif" font-size="12.5" fill="#353a46" stroke="#353a46" stroke-width="0.3" text-anchor="middle" textLength="222" lengthAdjust="spacingAndGlyphs">Интегрированная информационная</text><text x="1522" y="517" font-family="Liberation Serif, serif" font-size="12.5" fill="#353a46" stroke="#353a46" stroke-width="0.3" text-anchor="middle" textLength="86" lengthAdjust="spacingAndGlyphs">система (ИИС)</text><g id="icons">
<defs>
<linearGradient id="gBlueP" x1="0" y1="0" x2="1" y2="1"><stop offset="0" stop-color="#e3f2fb"/><stop offset="1" stop-color="#a9d3ee"/></linearGradient>
<radialGradient id="gHeadP" cx="0.4" cy="0.35" r="0.7"><stop offset="0" stop-color="#ffffff"/><stop offset="1" stop-color="#f0c9bd"/></radialGradient>
<linearGradient id="gOrange" x1="0" y1="0" x2="1" y2="1"><stop offset="0" stop-color="#fbe3bf"/><stop offset="1" stop-color="#e49b35"/></linearGradient>
<linearGradient id="gOrange2" x1="0" y1="0" x2="1" y2="0"><stop offset="0" stop-color="#e8a440"/><stop offset="1" stop-color="#f6cf8e"/></linearGradient>
<radialGradient id="gGlobe" cx="0.35" cy="0.3" r="0.75"><stop offset="0" stop-color="#eaf5ff"/><stop offset="0.6" stop-color="#7fb4e6"/><stop offset="1" stop-color="#3f78b8"/></radialGradient>
<linearGradient id="gBld" x1="0" y1="0" x2="1" y2="1"><stop offset="0" stop-color="#cfe6f8"/><stop offset="1" stop-color="#7fb2e0"/></linearGradient>
<linearGradient id="gDoc" x1="0" y1="0" x2="1" y2="1"><stop offset="0" stop-color="#7fb0de"/><stop offset="1" stop-color="#5d95cc"/></linearGradient>
</defs>

<!-- icon 1: person with box -->
<g stroke="#1a1f2a" stroke-width="1.3" stroke-linejoin="round">
 <ellipse cx="425" cy="488" rx="40" ry="5" fill="#dde6ee" stroke="none" opacity="0.6"/>
 <!-- box back flaps -->
 <polygon points="389.5,453 379.5,443 400,431 410.6,444" fill="#fbe9cf"/>
 <polygon points="410.6,444 421,433 441,443 431.7,454" fill="#f6dcb5"/>
 <!-- box body -->
 <polygon points="389.5,453 410.6,444 431.7,454 410.6,464" fill="#e9a64a"/>
 <polygon points="389.5,453 410.6,464 410.6,485 389.5,474" fill="url(#gOrange)"/>
 <polygon points="410.6,464 431.7,454 431.7,475 410.6,485" fill="#e8a23f"/>
 <polygon points="389.5,453 381,458 401,469 410.6,464" fill="#fdf0dc"/>
 <polygon points="431.7,454 442,457 421,469 410.6,464" fill="#fbe6c6"/>
 <!-- tablet -->
 <polygon points="410,424 424,420 427,444 413,448" fill="#cfe6f6"/>
 <polygon points="413,428 422,425.5 424,440 415,443" fill="#e7f3a0" stroke="none"/>
 <!-- person -->
 <path d="M455,450 L470,449 L471,483 L461,486 L457,482 Z" fill="#b7dcf2"/>
 <path d="M445,450 L458,451 L457,481 L450,486 L443,479 Z" fill="url(#gBlueP)"/>
 <path d="M446,411 Q452,408 464,409 Q471,412 471,420 L471,452 L444,452 L443,430 Z" fill="url(#gBlueP)"/>
 <path d="M447,415 L452,425 L434,436 L429,431 Z" fill="url(#gBlueP)"/>
 <path d="M444,427 L452,430 L449,448 L441,447 Z" fill="url(#gBlueP)"/>
 <circle cx="457" cy="400" r="8.3" fill="url(#gHeadP)"/>
</g>

<!-- icon 2: cubes -->
<g stroke="#0d2647" stroke-width="1.5" stroke-linejoin="round">
 <ellipse cx="794" cy="472" rx="38" ry="4" fill="#d9e3ee" stroke="none" opacity="0.7"/>
 <g id="cube">
  <polygon points="752,434 784,434 794,442 762,442" fill="#9ccbec"/>
  <polygon points="784,412 794,420 794,442 784,434" fill="#8dc1e6"/>
  <rect x="752" y="412" width="32" height="22" fill="#a9d5f1"/>
 </g>
 <use href="#cube" x="38.5" y="0"/>
 <use href="#cube" x="0" y="28"/>
 <use href="#cube" x="38.5" y="28"/>
</g>

<!-- icon 3: three people with boxes -->
<g stroke="#1a1f2a" stroke-width="1.2" stroke-linejoin="round">
 <ellipse cx="1150" cy="505" rx="50" ry="6" fill="#dfe7ef" stroke="none" opacity="0.6"/>
 <g id="carrier">
  <path d="M1117,415 L1131,414 Q1138,418 1138,428 L1136,452 L1135,484 L1126,490 L1122,486 L1124,456 L1122,456 L1121,482 L1113,486 L1112,482 L1116,452 Z" fill="url(#gBlueP)"/>
  <circle cx="1124.5" cy="407" r="7.2" fill="url(#gHeadP)"/>
  <polygon points="1094.5,421 1111.7,412.2 1129.3,421 1129.3,441 1112.6,450.2 1095.4,443" fill="#e9a646"/>
  <polygon points="1094.5,421 1112.6,430.3 1112.6,450.2 1095.4,443" fill="#f4d9aa"/>
  <polygon points="1094.5,421 1111.7,412.2 1129.3,421 1112.6,430.3" fill="#f7e2bf"/>
  <line x1="1100" y1="418" x2="1118" y2="427" stroke="#fff6e8" stroke-width="2.2"/>
  <line x1="1122" y1="424" x2="1122" y2="433" stroke="#fff3df" stroke-width="2.4"/>
  <line x1="1122" y1="439" x2="1122" y2="445" stroke="#fff3df" stroke-width="2.4"/>
  <rect x="1099" y="428" width="7.5" height="12" fill="#e9f0a8" stroke="#8a8a50" stroke-width="0.8"/>
 </g>
 <use href="#carrier" x="31.5" y="8"/>
 <use href="#carrier" x="63" y="18"/>
</g>
<g fill="#6fb6e8" stroke="none"><circle cx="1134" cy="444" r="4"/><rect x="1166" y="454" width="7" height="12" fill="#6fb0de"/></g>

<!-- icon 4: server building with globes -->
<g stroke="#2a3f58" stroke-width="1" stroke-linejoin="round">
 <ellipse cx="1520" cy="467" rx="32" ry="4" fill="#dfe7ef" stroke="none" opacity="0.7"/>
 <polygon points="1488,460 1500,455 1508,459 1496,466" fill="#9cc6ea"/>
 <polygon points="1492.7,412 1515,425 1515,463 1492.7,450" fill="url(#gBld)"/>
 <polygon points="1515,425 1532,414 1532,453 1515,463" fill="#7eb0dc"/>
 <polygon points="1492.7,412 1510,401.5 1532,414 1515,425" fill="#dcedfa"/>
 <g fill="#5a7fa6" stroke="none">
  <rect x="1496" y="422" width="3" height="3"/><rect x="1501" y="424" width="3" height="3"/><rect x="1506" y="427" width="3" height="3"/>
  <rect x="1496" y="429" width="3" height="3"/><rect x="1501" y="431" width="3" height="3"/><rect x="1506" y="434" width="3" height="3"/>
  <rect x="1496" y="436" width="3" height="3"/><rect x="1501" y="438" width="3" height="3"/><rect x="1506" y="441" width="3" height="3"/>
  <rect x="1497" y="443" width="1.6" height="10" fill="#2a3f58"/><rect x="1500.5" y="445" width="1.6" height="10" fill="#2a3f58"/><rect x="1504" y="447" width="1.6" height="10" fill="#2a3f58"/>
 </g>
 <circle cx="1541" cy="424" r="10" fill="url(#gGlobe)"/>
 <circle cx="1532" cy="441" r="9.5" fill="url(#gGlobe)"/>
</g>

<!-- icon 5: forklift -->
<g stroke-linejoin="round">
 <ellipse cx="786" cy="917" rx="28" ry="4" fill="#e3ebf2" opacity="0.7"/>
 <!-- body -->
 <polygon points="773.6,888.8 795.3,878 815.4,894 814.9,902.4 787.7,917 773.6,910.5" fill="#8fbde8" stroke="#4d7fb3" stroke-width="0.8"/>
 <polygon points="773.6,888.8 786,883 787.7,917 773.6,910.5" fill="#dcecf9" stroke="#7ea6cc" stroke-width="0.6"/>
 <polygon points="796,882 811,879 813,898 798,903" fill="#e8823c"/>
 <!-- cabin pillars -->
 <line x1="813.3" y1="863.3" x2="815" y2="895" stroke="#7d9fc4" stroke-width="1.6"/>
 <line x1="802" y1="870" x2="804" y2="900" stroke="#9ab8d8" stroke-width="1.2"/>
 <!-- roof -->
 <polygon points="782.9,860.6 794.3,854.6 813.3,863.3 802.4,870.4" fill="#a9cdee" stroke="#5f8dbd" stroke-width="0.9"/>
 <g stroke="#e9f4fd" stroke-width="1.1"><line x1="786" y1="860" x2="797" y2="855.5"/><line x1="790" y1="862.5" x2="801" y2="857.5"/><line x1="794" y1="865" x2="805" y2="859.5"/></g>
 <!-- seat person hint -->
 <ellipse cx="798" cy="874" rx="4" ry="5" fill="#c7dcf0" opacity="0.9"/>
 <line x1="808" y1="873" x2="804" y2="893" stroke="#222" stroke-width="1.4"/>
 <!-- mast -->
 <line x1="786.7" y1="869" x2="787.5" y2="906" stroke="#1d4270" stroke-width="2"/>
 <!-- forks -->
 <polygon points="751,884 770,888 786,882 786,887 769,893 753,888.5" fill="#cf6a4f"/>
 <!-- box -->
 <polygon points="757.4,861.7 770.4,855.7 784,864.4 783.4,881.2 770.4,887.7 758,881" fill="#eeb25e" stroke="#4a3008" stroke-width="1"/>
 <polygon points="757.4,861.7 771,870.4 770.4,887.7 758,881" fill="#f8e3b6" stroke="#4a3008" stroke-width="1"/>
 <polygon points="757.4,861.7 770.4,855.7 784,864.4 771,870.4" fill="#f4d49c" stroke="#4a3008" stroke-width="1"/>
 <line x1="762" y1="865" x2="762.5" y2="883" stroke="#a88050" stroke-width="0.9"/><line x1="766" y1="867" x2="766.5" y2="885" stroke="#a88050" stroke-width="0.9"/>
 <!-- wheels -->
 <ellipse cx="771" cy="904" rx="3.5" ry="5" fill="#2c5f9a"/>
 <ellipse cx="788" cy="912" rx="5.5" ry="6" fill="#1f5393" stroke="#12345e" stroke-width="1"/>
 <ellipse cx="788" cy="912" rx="2" ry="2.5" fill="#cfe5f7"/>
 <ellipse cx="811" cy="902" rx="4.5" ry="5" fill="#1f5393"/>
 <ellipse cx="811" cy="902" rx="1.6" ry="2" fill="#cfe5f7"/>
</g>

<!-- icon 6: document -->
<g>
 <path d="M1099,1175 L1133,1175 L1141.5,1184 L1141.5,1232.5 L1099,1232.5 Z" fill="url(#gDoc)" stroke="#3d5f86" stroke-width="1"/>
 <path d="M1133,1175 L1133,1184 L1141.5,1184" fill="#cfe3f5" stroke="#3d5f86" stroke-width="1"/>
 <g stroke="#e8f3fc" stroke-width="1.3">
  <line x1="1105" y1="1186" x2="1115" y2="1186"/><line x1="1105" y1="1193" x2="1113" y2="1193"/>
  <line x1="1105" y1="1200" x2="1133" y2="1200"/><line x1="1105" y1="1207" x2="1133" y2="1207"/>
  <line x1="1105" y1="1214" x2="1133" y2="1214"/><line x1="1122" y1="1221" x2="1133" y2="1221"/>
 </g>
</g>
</g>

</svg>
</body></html>
